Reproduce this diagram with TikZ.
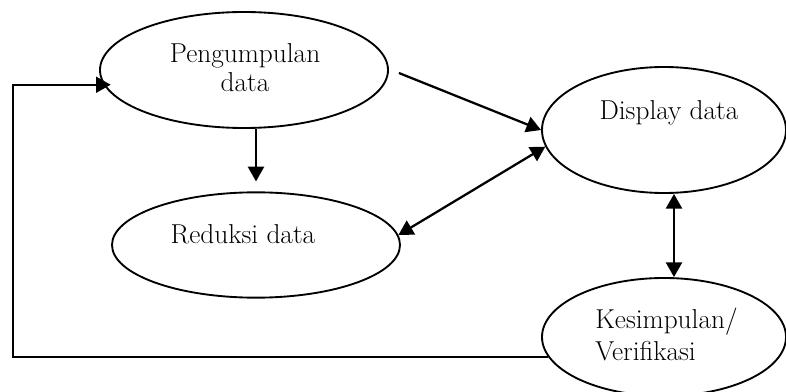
\documentclass[tikz,border=0pt]{standalone}
\usepackage{fontspec}
\usetikzlibrary{shapes.geometric,arrows.meta,calc}
\begin{document}
\begin{tikzpicture}[x=0.75pt,y=-0.75pt,
  oval/.style={draw,ellipse,line width=1.4pt,inner sep=0pt},
  lbl/.style={font=\fontsize{20.5}{21.75}\selectfont,inner sep=0pt},
  arr/.style={line width=1.7pt,-{Triangle[length=11pt,width=12pt]}},
  darr/.style={line width=1.7pt,{Triangle[length=11pt,width=12pt]}-{Triangle[length=11pt,width=12pt]}},
  fb/.style={line width=1.4pt,-{Triangle[length=11pt,width=12pt]}}]
\clip (0,0) rectangle (786,392);
\useasboundingbox (0,0) rectangle (786,392);
\node[oval,minimum width=216pt,minimum height=87pt] (p) at (244,70) {};
\node[oval,minimum width=183pt,minimum height=94.5pt] (d) at (664,130) {};
\node[oval,minimum width=216pt,minimum height=79pt] (r) at (256,245) {};
\node[oval,minimum width=183pt,minimum height=88.5pt] (k) at (664,337) {};
\node[lbl,align=center,anchor=base] (pt) at (245,92) {Pengumpulan\\data};
\node[lbl,anchor=base] (dt) at (669,120) {Display data};
\node[lbl,anchor=base] (rt) at (243,244) {Reduksi data};
\node[lbl,align=left,anchor=base west,font=\fontsize{20.5}{24}\selectfont] (kt) at (595,360) {Kesimpulan/\\Verifikasi};
\coordinate (c) at (13,0);
\draw[arr] ($(p.east)+(10,3)$) -- (d.west);
\draw[arr] (p.south -| r.north) -- ($(r.north)+(0,-10)$);
\draw[darr] (r.4) -- (d.188);
\draw[darr] ($(d.south)+(10,0)$) -- ($(k.north)+(10,0)$);
\draw[fb] (k.190) -- (k.190 -| c) |- ($(p.186)+(7,0)$);
\end{tikzpicture}
\end{document}
